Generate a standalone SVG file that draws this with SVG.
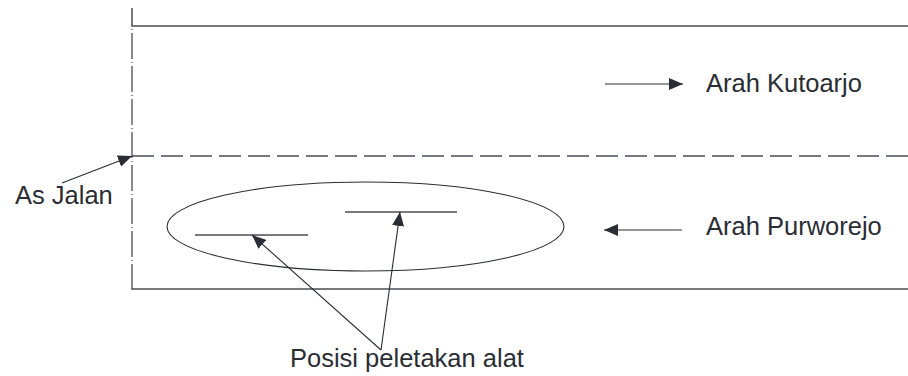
<svg xmlns="http://www.w3.org/2000/svg" width="908" height="376" viewBox="0 0 908 376">
<style>
.road{stroke:#4a4d55;stroke-width:1.5;fill:none}
.axis{stroke:#4a4d55;stroke-width:1.3;fill:none}
.thin{stroke:#2a2d34;stroke-width:1.1;fill:none}
.lbl{font-family:"Liberation Sans",Arial,sans-serif;font-size:25.5px;fill:#2a2d34}
</style>
<defs>
<marker id="ah" viewBox="0 0 14 12" refX="14" refY="6" markerWidth="14" markerHeight="12" markerUnits="userSpaceOnUse" orient="auto">
<path d="M0,0 L14,6 L0,12 z" fill="#2a2d34"/>
</marker>
</defs>
<rect width="908" height="376" fill="#ffffff"/>
<g id="road">
<line class="road" x1="132" y1="8" x2="132" y2="26"/>
<line class="road" x1="131.3" y1="26" x2="908" y2="26"/>
<line class="axis" x1="132" y1="29" x2="132" y2="289" stroke-dasharray="1 3 26 3"/>
<line class="road" x1="131.3" y1="289" x2="908" y2="289"/>
<line class="axis" x1="132" y1="156" x2="908" y2="156" stroke-dasharray="22 7"/>
</g>
<g id="positions">
<ellipse class="thin" cx="365.5" cy="226.5" rx="198.5" ry="44.5"/>
<line class="road" x1="195" y1="235" x2="308" y2="235"/>
<line class="road" x1="345" y1="212" x2="457" y2="212"/>
</g>
<g id="labels">
<text id="as-jalan" class="lbl" x="15" y="204">As Jalan</text>
<text id="arah-kutoarjo" class="lbl" x="706" y="92">Arah Kutoarjo</text>
<text id="arah-purworejo" class="lbl" x="706" y="235">Arah Purworejo</text>
<text id="posisi" class="lbl" x="290" y="367">Posisi peletakan alat</text>
</g>
<g id="connectors">
<line class="thin" x1="62" y1="183" x2="132" y2="156" marker-end="url(#ah)"/>
<line class="thin" x1="605" y1="84" x2="683" y2="84" marker-end="url(#ah)"/>
<line class="thin" x1="682" y1="230" x2="604" y2="230" marker-end="url(#ah)"/>
<line class="thin" x1="381" y1="350" x2="252" y2="235" marker-end="url(#ah)"/>
<line class="thin" x1="381" y1="350" x2="400" y2="212" marker-end="url(#ah)"/>
</g>
</svg>
